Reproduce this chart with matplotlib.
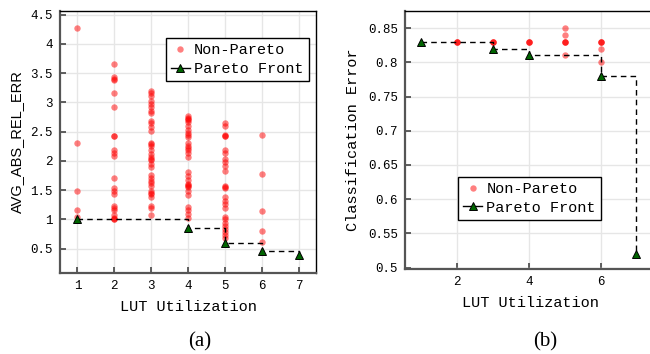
import numpy as np
import matplotlib.pyplot as plt

# ======= Data: (a) average absolute relative error vs LUT utilization =======
a_lut = [1] * 5 + [2] * 22 + [3] * 34 + [4] * 29 + [5] * 26 + [6] * 5
a_err = [
    4.27, 2.31, 1.49, 1.17, 1.05,
    3.65, 3.43, 3.40, 3.39, 3.16, 2.92, 2.43, 2.42, 2.19, 2.14, 2.08,
    1.71, 1.53, 1.49, 1.44, 1.23, 1.20, 1.16, 1.07, 1.03, 1.00, 1.01,
    3.20, 3.16, 3.10, 3.03, 2.97, 2.92, 2.86, 2.81, 2.68, 2.64, 2.58, 2.51,
    2.31, 2.26, 2.19, 2.11, 2.07, 2.01, 1.95, 1.89, 1.76, 1.70, 1.63, 1.57,
    1.49, 1.43, 1.39, 1.23, 1.19, 1.07, 2.29, 2.04, 1.46, 1.65,
    2.76, 2.72, 2.66, 2.59, 2.52, 2.45, 2.40, 2.31, 2.26, 2.19, 2.13, 2.06,
    1.81, 1.74, 1.67, 1.60, 1.56, 1.48, 1.41, 1.22, 1.16, 1.10, 1.03,
    2.74, 2.70, 2.22, 1.58, 1.59, 2.48,
    2.64, 2.60, 2.45, 2.42, 2.18, 2.13, 2.04, 1.98, 1.91, 1.83, 1.57, 1.53,
    1.39, 1.32, 1.26, 1.20, 1.05, 1.00, 0.94, 0.89, 0.84, 0.79, 0.73, 0.68,
    2.43, 1.55,
    2.45, 1.77, 1.14, 0.80, 0.62,
]
a_pareto_lut = [1, 4, 5, 6, 7]
a_pareto_err = [1.01, 0.86, 0.59, 0.46, 0.40]

# ======= Data: (b) classification error vs LUT utilization =======
b_lut = [2, 2, 2, 3, 3, 3, 4, 4, 4, 5, 5, 5, 5, 5, 5, 6, 6, 6, 6, 6]
b_err = [0.83, 0.83, 0.83, 0.83, 0.83, 0.83, 0.83, 0.83, 0.83,
         0.85, 0.84, 0.83, 0.83, 0.83, 0.81,
         0.83, 0.83, 0.83, 0.82, 0.80]
b_pareto_lut = [1, 3, 4, 6, 7]
b_pareto_err = [0.83, 0.82, 0.81, 0.78, 0.52]

MONO = 'Liberation Mono'
plt.rcParams['font.family'] = MONO


def style_axes(ax, xticks, yticks, xlim, ylim):
    ax.set_xlim(*xlim)
    ax.set_ylim(*ylim)
    ax.set_xticks(xticks)
    ax.set_yticks(yticks)
    ax.grid(True, color='#e6e6e6', linewidth=1.0)
    ax.set_axisbelow(True)
    ax.tick_params(direction='in', length=4, width=1.2, color='#444444',
                   labelsize=9, pad=5)
    for side in ('left', 'bottom'):
        ax.spines[side].set_color('#555555')
        ax.spines[side].set_linewidth(1.6)
    for side in ('top', 'right'):
        ax.spines[side].set_color('black')
        ax.spines[side].set_linewidth(1.0)
    ax.set_xlabel('LUT Utilization', fontsize=11, labelpad=6)


def draw_front(ax, lut, err, plut, perr):
    ax.plot(lut, err, 'o', color='#ff0000', alpha=0.5, markersize=4.6,
            markeredgewidth=0, label='Non-Pareto')
    ax.plot(plut, perr, color='black', linestyle='--', linewidth=1.0,
            drawstyle='steps-post', dashes=(4, 3))
    ax.plot(plut, perr, '^', color='#006400', markeredgecolor='black',
            markeredgewidth=0.7, markersize=5.5)
    # legend proxy: solid short line with triangle
    ax.plot([], [], color='black', linewidth=1.0, marker='^',
            markerfacecolor='#006400', markeredgecolor='black',
            markeredgewidth=0.7, markersize=5.5, label='Pareto Front')


fig = plt.figure(figsize=(6.5, 3.54), dpi=100)

ax1 = fig.add_axes([60 / 650, 81 / 354, 256 / 650, 262 / 354])
draw_front(ax1, a_lut, a_err, a_pareto_lut, a_pareto_err)
style_axes(ax1, np.arange(1, 8), np.arange(0.5, 4.51, 0.5),
           (0.53, 7.46), (0.086, 4.56))
ax1.set_yticklabels(['0.5', '1', '1.5', '2', '2.5', '3', '3.5', '4', '4.5'])
ax1.set_ylabel('AVG_ABS_REL_ERR', fontsize=10.5, family='Liberation Sans',
               labelpad=5)
leg1 = ax1.legend(loc='upper right', bbox_to_anchor=(0.973, 0.897),
                  borderaxespad=0, fontsize=11, fancybox=False,
                  edgecolor='black', framealpha=1, numpoints=1,
                  handlelength=1.2, handletextpad=0.3, borderpad=0.35,
                  labelspacing=0.3)
leg1.get_frame().set_linewidth(1.0)

ax2 = fig.add_axes([405 / 650, 85 / 354, 250 / 650, 258 / 354])
draw_front(ax2, b_lut, b_err, b_pareto_lut, b_pareto_err)
style_axes(ax2, [2, 4, 6], np.arange(0.5, 0.851, 0.05),
           (0.54, 7.52), (0.498, 0.875))
ax2.set_yticklabels(['0.5', '0.55', '0.6', '0.65', '0.7', '0.75', '0.8', '0.85'])
ax2.set_ylabel('Classification Error', fontsize=11, labelpad=6)
leg2 = ax2.legend(loc='lower left', bbox_to_anchor=(0.212, 0.19),
                  borderaxespad=0, fontsize=11, fancybox=False,
                  edgecolor='black', framealpha=1, numpoints=1,
                  handlelength=1.2, handletextpad=0.3, borderpad=0.35,
                  labelspacing=0.3)
leg2.get_frame().set_linewidth(1.0)

fig.text(200 / 650, 1 - 342 / 354, '(a)', family='Liberation Serif',
         fontsize=15, ha='center', va='center')
fig.text(545 / 650, 1 - 342 / 354, '(b)', family='Liberation Serif',
         fontsize=15, ha='center', va='center')

fig.savefig('out.png', dpi=100)
